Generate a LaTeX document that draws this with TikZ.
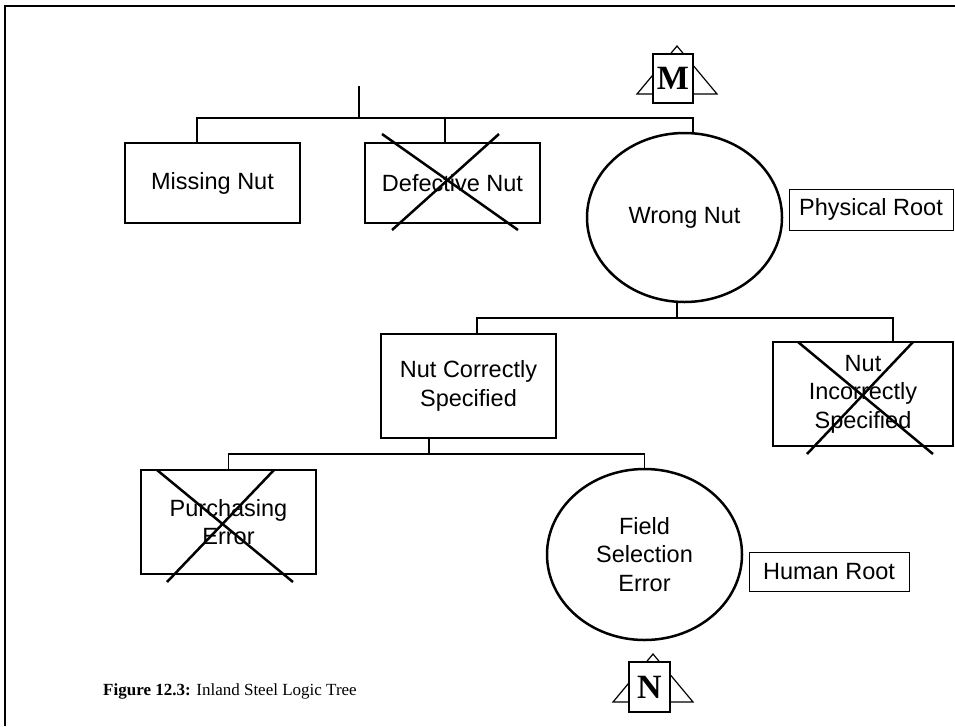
\documentclass[tikz,border=0pt]{standalone}
\usepackage{fontspec}
\setmainfont{Liberation Serif}
\newfontfamily\labelfont{Liberation Sans}
\usetikzlibrary{shapes.geometric}
\begin{document}
\begin{tikzpicture}[x=1pt,y=-1pt,
  txt/.style={font=\labelfont\fontsize{23.5}{28.5}\selectfont, align=center},
  box/.style={draw, rectangle, line width=1.2pt, inner sep=0pt, txt},
  oval/.style={draw, ellipse, line width=2.5pt, inner sep=0pt, txt},
  tag/.style={draw, rectangle, line width=1pt, inner sep=0pt, txt},
  link/.style={line width=1.3pt},
  cross/.style={line width=2.5pt, line cap=butt},
  sym/.style={draw, rectangle, line width=1.2pt, fill=white, inner sep=0pt,
    font=\bfseries\fontsize{34}{34}\selectfont},
  frame/.style={line width=2pt}
]
\useasboundingbox (0,0) rectangle (955,726);

% page frame (top and left edges)
\draw[frame] (5,726) -- (5,6) -- (955,6);

% junction points of the branch bars
\coordinate (top) at (359,86);
\coordinate (j1) at (359,118);
\coordinate (j2) at (677,318);
\coordinate (j3) at (429,454);

% first level
\node[box, minimum width=175pt, minimum height=80pt] (missing) at (212.5,183) {Missing Nut};
\node[box, minimum width=175pt, minimum height=80pt] (defective) at (452.5,183) {Defective Nut};
\node[oval, minimum width=195pt, minimum height=169pt] (wrong) at (684.5,217.5) {Wrong Nut};
\node[tag, minimum width=164pt, minimum height=41pt] (physical) at (871,209.5) {Physical Root};

% second level
\node[box, minimum width=175pt, minimum height=104pt] (correct) at (468.5,386) {Nut Correctly\\Specified};
\node[box, minimum width=180pt, minimum height=104pt] (incorrect) at (863,394) {Nut\\Incorrectly\\Specified};

% third level
\node[box, minimum width=175pt, minimum height=104pt] (purchasing) at (228.5,522) {Purchasing\\Error};
\node[oval, minimum width=195pt, minimum height=171pt] (field) at (644.5,554.5) {Field\\Selection\\Error};
\node[tag, minimum width=160pt, minimum height=39pt] (human) at (829,571.5) {Human Root};

% tree connectors
\draw[link] (top) -- (j1);
\draw[link] ([xshift=-15.5pt]missing.north) |- (j1) -| ([xshift=8.5pt]wrong.north);
\draw[link] ([xshift=-7.5pt]defective.north) -- ([xshift=-7.5pt]defective.north |- j1);
\draw[link] ([xshift=-7.5pt]wrong.south) -- (j2);
\draw[link] ([xshift=8.5pt]correct.north) |- (j2) -| ([xshift=30pt]incorrect.north);
\draw[link] ([xshift=-39.5pt]correct.south) -- (j3);
\draw[link] (purchasing.north) |- (j3) -| (field.north);

% crossed-out branches
\draw[cross] ([shift={(-70.5,-49)}]defective.center) -- ([shift={(65.5,47)}]defective.center);
\draw[cross] ([shift={(46.5,-49)}]defective.center) -- ([shift={(-60.5,47)}]defective.center);
\draw[cross] ([shift={(-65,-52)}]incorrect.center) -- ([shift={(70,60)}]incorrect.center);
\draw[cross] ([shift={(50,-52)}]incorrect.center) -- ([shift={(-56,60)}]incorrect.center);
\draw[cross] ([shift={(-71.5,-52)}]purchasing.center) -- ([shift={(64.5,60)}]purchasing.center);
\draw[cross] ([shift={(45.5,-52)}]purchasing.center) -- ([shift={(-61.5,60)}]purchasing.center);

% M symbol
\draw[line width=1.2pt] (637,94) -- (677,46) -- (717,94) -- cycle;
\node[sym, minimum width=40pt, minimum height=49pt] (msym) at (673,78.5) {M};

% N symbol
\draw[line width=1.2pt] (613,702) -- (653,654) -- (693,702) -- cycle;
\node[sym, minimum width=41pt, minimum height=50pt] (nsym) at (649.5,687) {N};

% caption
\node[anchor=base west, inner sep=0pt, font=\fontsize{17}{20}\selectfont] (caption) at (103,695)
  {\textbf{Figure 12.3:} Inland Steel Logic Tree};
\end{tikzpicture}
\end{document}
